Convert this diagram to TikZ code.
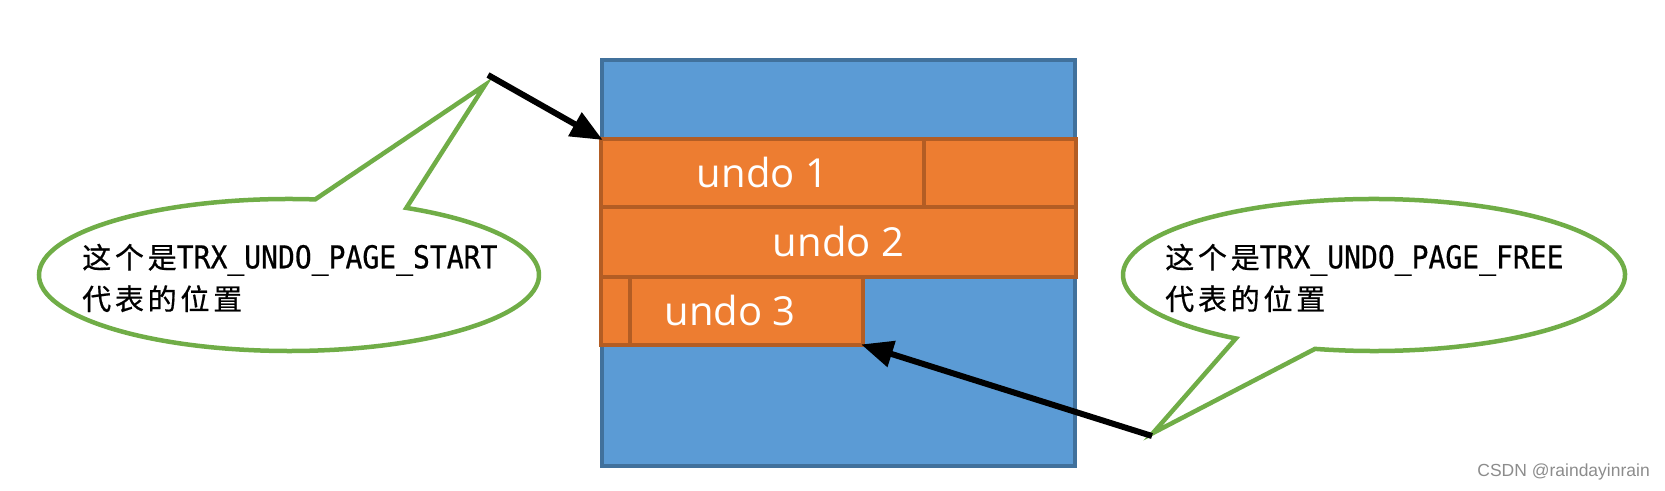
\documentclass[tikz,border=0pt]{standalone}
\usepackage{fontspec}
\usetikzlibrary{arrows.meta}
\setmainfont{Open Sans}
\newfontfamily\cjkf[LetterSpace=13,FakeBold=0.6]{Noto Sans CJK SC}
\newfontfamily\monof[FakeStretch=0.89,FakeBold=0.6]{DejaVu Sans Mono}
\newfontfamily\wmf{Liberation Sans}
\definecolor{bluefill}{HTML}{5B9BD5}
\definecolor{blueline}{HTML}{41719C}
\definecolor{orfill}{HTML}{ED7D31}
\definecolor{orline}{HTML}{B35D24}
\definecolor{calloutgreen}{HTML}{70AD47}
\definecolor{wmgray}{HTML}{8C8C8C}
\tikzset{
  pagebox/.style={draw=blueline, fill=bluefill, line width=4pt, inner sep=0pt, outer sep=0pt},
  cell/.style={draw=orline, fill=orfill, line width=4pt, inner sep=0pt, outer sep=0pt,
    text=white, font=\fontsize{40}{48}\selectfont},
  undotext/.style={text=white, inner sep=0pt, font=\fontsize{40}{48}\selectfont},
  callout/.style={draw=calloutgreen, fill=white, line width=4.5pt, line join=miter},
  callouttext/.style={align=left, inner sep=0pt, anchor=west, font=\fontsize{29}{41.5}\selectfont},
  pointer/.style={line width=6pt, -{Triangle[length=32pt,width=26pt]}, shorten >=-2pt},
}
\newcommand{\cj}[1]{{\cjkf\fontsize{29}{41.5}\selectfont #1}}
\newcommand{\mo}[1]{{\monof\fontsize{31.5}{41.5}\selectfont #1}}
\begin{document}
\begin{tikzpicture}[x=1pt,y=1pt]
\useasboundingbox (0,0) rectangle (1665,490);
% page box
\node[pagebox, minimum width=473pt, minimum height=406pt] (page) at (838.5,227) {};
% rows
\node[cell, minimum width=323pt, minimum height=68pt] (u1) at (762.5,317) {undo 1};
\node[cell, minimum width=152pt, minimum height=68pt] (u1b) at (1000,317) {};
\node[cell, minimum width=475pt, minimum height=70pt] (u2) at (838.5,248) {undo 2};
\node[cell, minimum width=29pt, minimum height=68pt] (u3a) at (615.5,179) {};
\node[cell, minimum width=233pt, minimum height=68pt] (u3) at (746.5,179) {};
\node[undotext] (u3t) at (730,179) {undo 3};
% left callout
\coordinate (lc) at (289,215);
\coordinate (tipL) at (485,405);
\draw[callout] ([shift={(84:250 and 76)}]lc) arc[start angle=84, end angle=422, x radius=250pt, y radius=76pt] -- (tipL) -- cycle;
\node[callouttext] (tL) at (82,212) {\cj{这个是}\mo{TRX\_UNDO\_PAGE\_START}\\\cj{代表的位置}};
% right callout
\coordinate (rc) at (1374,215);
\coordinate (tipR) at (1153,57);
\draw[callout] ([shift={(256.4:251 and 76)}]rc) arc[start angle=256.4, end angle=596.6, x radius=251pt, y radius=76pt] -- (tipR) -- cycle;
\node[callouttext] (tR) at (1165,212) {\cj{这个是}\mo{TRX\_UNDO\_PAGE\_FREE}\\\cj{代表的位置}};
% arrows
\coordinate (sL) at (488,415);
\coordinate (sR) at (1152,54);
\draw[pointer] (sL) -- (u1.north west);
\draw[pointer] (sR) -- (u3.south east);
% watermark
\node[text=wmgray, font=\wmf\fontsize{17.5}{20}\selectfont, anchor=east, inner sep=0pt] (wm) at (1650,18) {CSDN @raindayinrain};
\end{tikzpicture}
\end{document}
